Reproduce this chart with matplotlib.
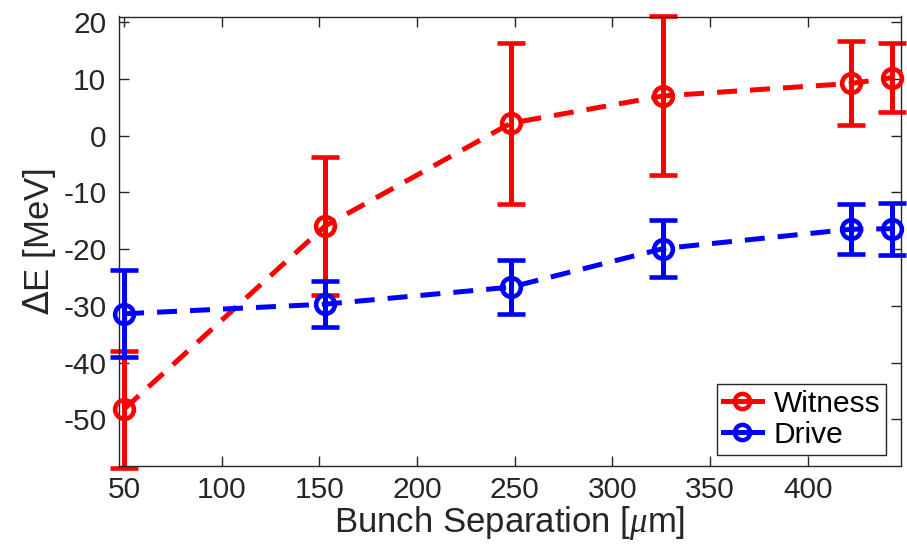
import matplotlib
matplotlib.use("Agg")
import matplotlib.pyplot as plt
from matplotlib.lines import Line2D

plt.rcParams['font.family'] = ['Liberation Sans', 'DejaVu Sans']
plt.rcParams['mathtext.fontset'] = 'custom'
plt.rcParams['mathtext.it'] = 'Liberation Serif:italic'
plt.rcParams['axes.unicode_minus'] = False

# Bunch separation [um]
separation = [50, 153, 248, 326, 422, 443]

# Energy change [MeV] and uncertainties
witness = [-48.2, -15.9, 2.2, 7.0, 9.2, 10.2]
witness_err = [10.3, 12.1, 14.2, 14.0, 7.4, 6.1]
drive = [-31.4, -29.7, -26.7, -19.9, -16.5, -16.4]
drive_err = [7.7, 4.1, 4.8, 5.1, 4.4, 4.6]

xticks = [50, 100, 150, 200, 250, 300, 350, 400]
yticks = [-50, -40, -30, -20, -10, 0, 10, 20]

RED = '#ff0000'
BLUE = '#0000ff'
DASH = (0, (4, 2.6))

fig = plt.figure(figsize=(9.07, 5.5), dpi=100)
ax = fig.add_axes([0.131, 0.153, 0.862, 0.817])

style = dict(fmt='o', linestyle=DASH, lw=3.6, ms=13.5, mfc='none',
             mew=3.3, elinewidth=3.6, capsize=10, capthick=3.6)
for y, err, c in [(witness, witness_err, RED), (drive, drive_err, BLUE)]:
    cont = ax.errorbar(separation, y, yerr=err, color=c, **style)
    for art in cont.lines[:1] + tuple(cont.lines[1]) + tuple(cont.lines[2]):
        art.set_clip_on(False)
    cont.lines[0].set_zorder(3)

ax.set_xlim(47.3, 447.6)
ax.set_ylim(-58.2, 21.0)
ax.set_xticks(xticks)
ax.set_yticks(yticks)
ax.tick_params(direction='in', length=7, width=1, top=True, right=True,
               labelsize=21.5, colors='#262626')
ax.tick_params(axis='y', pad=9)
ax.tick_params(axis='x', pad=7)
for s in ax.spines.values():
    s.set_color('#262626')
    s.set_linewidth(1)

ax.set_xlabel(r'Bunch Separation [$\mu$m]', fontsize=25, color='#262626',
              labelpad=0)
ax.set_ylabel(r'$\Delta$E [MeV]', fontsize=25, color='#262626', labelpad=4)

handles = [Line2D([], [], color=RED, lw=3.6, marker='o', ms=11, mfc='none',
                  mew=3.2, markevery=[1]),
           Line2D([], [], color=BLUE, lw=3.6, marker='o', ms=11, mfc='none',
                  mew=3.2, markevery=[1])]
leg = ax.legend(handles, ['Witness', 'Drive'], loc='lower right',
                fontsize=21.5, handlelength=1.3, handletextpad=0.4,
                borderpad=0.2, labelspacing=0.1, borderaxespad=0.3,
                fancybox=False, framealpha=1, edgecolor='#262626',
                bbox_to_anchor=(0.993, 0.005))
leg.get_frame().set_linewidth(1)

fig.savefig('out.png', dpi=100)
